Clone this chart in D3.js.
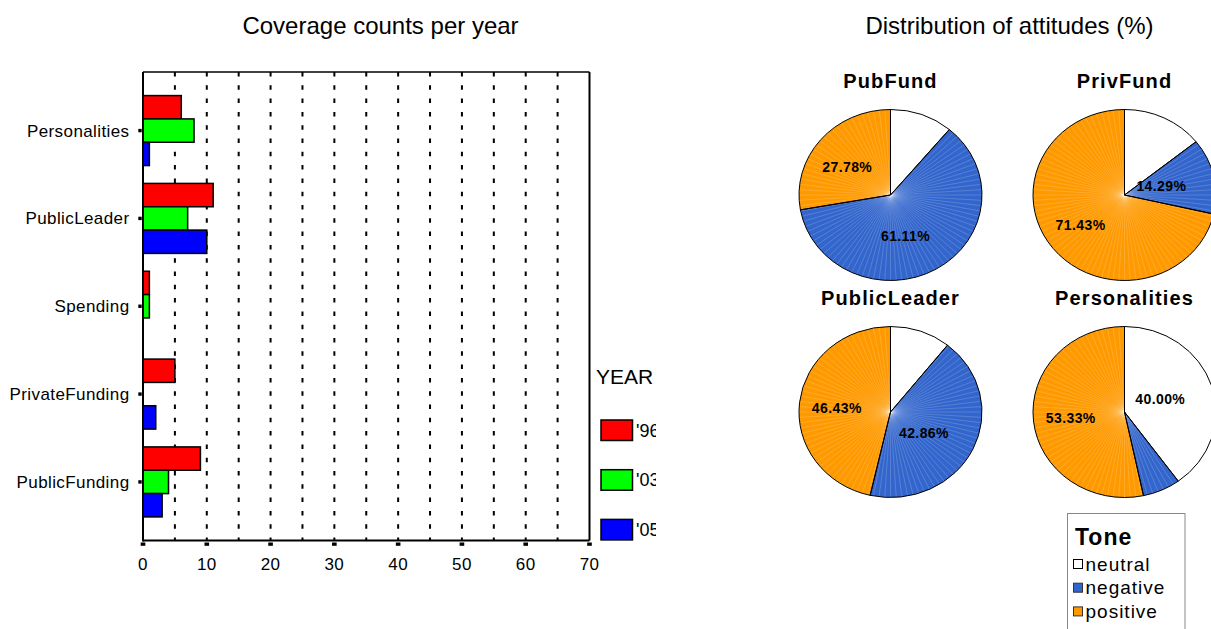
<!DOCTYPE html>
<html>
<head>
<meta charset="utf-8">
<script src="https://cdn.jsdelivr.net/npm/d3@7"></script>
<style>
  html, body { margin: 0; padding: 0; background: #fff; }
  svg { display: block; font-family: "Liberation Sans", Arial, sans-serif; }
</style>
</head>
<body>
<svg id="chart" width="1211" height="629"></svg>
<script>
// ---------- data ----------
const categories = ["Personalities", "PublicLeader", "Spending", "PrivateFunding", "PublicFunding"];
const years = ["'96", "'03", "'05"];
const counts96 = [6, 11, 1, 5, 9];
const counts03 = [8, 7, 1, 0, 4];
const counts05 = [1, 10, 0, 2, 3];
const xTicks = [0, 10, 20, 30, 40, 50, 60, 70];
const xGrid = [5, 10, 15, 20, 25, 30, 35, 40, 45, 50, 55, 60, 65];

const pieNames = ["PubFund", "PrivFund", "PublicLeader", "Personalities"];
const tones = ["neutral", "negative", "positive"];
const neutralPct = [11.11, 14.29, 10.71, 40.00];
const negativePct = [61.11, 14.29, 42.86, 6.67];
const positivePct = [27.78, 71.43, 46.43, 53.33];
const neutralLabelShown = [false, false, false, true];
const negativeLabelShown = [true, true, true, false];
const positiveLabelShown = [true, true, true, true];

// ---------- setup ----------
const svg = d3.select("#chart");
svg.append("rect").attr("width", 1211).attr("height", 629).attr("fill", "#fff");

const yearColors = d3.scaleOrdinal().domain(years).range(["#ff0000", "#00ff00", "#0000ff"]);
const toneColors = d3.scaleOrdinal().domain(tones).range(["#ffffff", "#3366cc", "#ff9900"]);

// ---------- bar chart ----------
const plot = { left: 143, right: 589.5, top: 72, bottom: 540.5 };
const x = d3.scaleLinear().domain([0, 70]).range([plot.left, plot.right]);
const y = d3.scalePoint().domain(categories).range([plot.top, plot.bottom]).padding(0.667);
const yInner = d3.scaleBand().domain(years).range([-35, 35]);

svg.append("text")
  .attr("x", 380.5).attr("y", 34)
  .attr("text-anchor", "middle")
  .attr("font-size", 24)
  .text("Coverage counts per year");

// grid lines
svg.append("g").selectAll("line").data(xGrid).join("line")
  .attr("x1", d => x(d)).attr("x2", d => x(d))
  .attr("y1", plot.top).attr("y2", plot.bottom)
  .attr("stroke", "#000").attr("stroke-width", 2)
  .attr("stroke-dasharray", "4.5,8.8");

// bars
const seriesVals = [counts96, counts03, counts05];
const barData = [];
categories.forEach((c, ci) => {
  years.forEach((yr, yi) => barData.push({ cat: c, year: yr, v: seriesVals[yi][ci] }));
});
svg.append("g").selectAll("rect").data(barData).join("rect")
  .attr("x", x(0))
  .attr("y", d => y(d.cat) + yInner(d.year))
  .attr("width", d => x(d.v) - x(0))
  .attr("height", yInner.bandwidth())
  .attr("fill", d => yearColors(d.year))
  .attr("stroke", d => d.v > 0 ? "#000" : "none")
  .attr("stroke-width", 1.5);

// frame
const frame = svg.append("g").attr("stroke", "#000").attr("fill", "none");
frame.append("line").attr("x1", plot.left).attr("x2", plot.right).attr("y1", plot.top).attr("y2", plot.top).attr("stroke-width", 1.5);
frame.append("line").attr("x1", plot.right).attr("x2", plot.right).attr("y1", plot.top).attr("y2", plot.bottom).attr("stroke-width", 2);
frame.append("line").attr("x1", plot.left).attr("x2", plot.left).attr("y1", plot.top).attr("y2", plot.bottom + 1).attr("stroke-width", 2);
frame.append("line").attr("x1", plot.left).attr("x2", plot.right).attr("y1", plot.bottom).attr("y2", plot.bottom).attr("stroke-width", 2);

// y axis ticks and labels
const yAx = svg.append("g");
yAx.selectAll("rect").data(categories).join("rect")
  .attr("x", 138.3).attr("y", d => y(d) - 1.7).attr("width", 3.4).attr("height", 3.4).attr("fill", "#000");
yAx.selectAll("text").data(categories).join("text")
  .attr("x", 129.5).attr("y", d => y(d) + 6)
  .attr("text-anchor", "end")
  .attr("font-size", 17)
  .attr("letter-spacing", 0.4)
  .text(d => d);

// x axis ticks and labels
const xAx = svg.append("g");
xAx.selectAll("rect").data(xTicks).join("rect")
  .attr("x", d => x(d) - 2.3).attr("y", 542.5).attr("width", 4.6).attr("height", 3.3).attr("fill", "#000");
xAx.selectAll("text").data(xTicks).join("text")
  .attr("x", d => x(d)).attr("y", 569.5)
  .attr("text-anchor", "middle")
  .attr("font-size", 17)
  .attr("letter-spacing", 0.4)
  .text(d => d);

// YEAR legend (clipped at right)
svg.append("clipPath").attr("id", "legclip")
  .append("rect").attr("x", 590).attr("y", 340).attr("width", 66).attr("height", 220);
const leg = svg.append("g").attr("clip-path", "url(#legclip)");
leg.append("text").attr("x", 596).attr("y", 384).attr("font-size", 21).text("YEAR");
const legRows = leg.selectAll("g.row").data(years).join("g").attr("class", "row")
  .attr("transform", (d, i) => `translate(601,${420 + i * 49.7})`);
legRows.append("rect").attr("width", 31.5).attr("height", 20.5)
  .attr("fill", d => yearColors(d)).attr("stroke", "#000").attr("stroke-width", 1.5);
legRows.append("text").attr("x", 35).attr("y", 16.5).attr("font-size", 18).text(d => d);

// ---------- pies ----------
svg.append("text")
  .attr("x", 1009.5).attr("y", 34)
  .attr("text-anchor", "middle")
  .attr("font-size", 24)
  .text("Distribution of attitudes (%)");

const pieCenters = [[890.5, 195], [1124.5, 195], [890.5, 412], [1124.5, 412]];
const ry = 85.5, rx = 91.5;
const pie = d3.pie().sort(null).value(d => d.v);
const arc = d3.arc().innerRadius(0).outerRadius(ry);

pieNames.forEach((name, pi) => {
  const [cx, cy] = pieCenters[pi];
  const vals = [
    { tone: "neutral", v: neutralPct[pi], show: neutralLabelShown[pi] },
    { tone: "negative", v: negativePct[pi], show: negativeLabelShown[pi] },
    { tone: "positive", v: positivePct[pi], show: positiveLabelShown[pi] }
  ];
  const arcs = pie(vals);
  const g = svg.append("g").attr("transform", `translate(${cx},${cy})`);
  g.append("text").attr("x", 0).attr("y", -107)
    .attr("text-anchor", "middle")
    .attr("font-size", 20).attr("font-weight", "bold")
    .attr("letter-spacing", 1.1)
    .text(name);

  const sg = g.append("g").attr("transform", `scale(${rx / ry},1)`);
  sg.selectAll("path.fill").data(arcs).join("path").attr("class", "fill")
    .attr("d", arc).attr("fill", d => toneColors(d.data.tone));
  // subtle radial rendering streaks
  const streaks = d3.range(0, 360, 3.6);
  sg.append("g").selectAll("line").data(streaks).join("line")
    .attr("x1", 0).attr("y1", 0)
    .attr("x2", a => ry * Math.sin(a * Math.PI / 180))
    .attr("y2", a => -ry * Math.cos(a * Math.PI / 180))
    .attr("stroke", "#fff").attr("stroke-opacity", 0.28).attr("stroke-width", 0.6);
  sg.selectAll("path.edge").data(arcs).join("path").attr("class", "edge")
    .attr("d", arc).attr("fill", "none")
    .attr("stroke", "#000").attr("stroke-width", 1)
    .attr("vector-effect", "non-scaling-stroke");

  g.selectAll("text.lab").data(arcs.filter(d => d.data.show)).join("text").attr("class", "lab")
    .attr("x", d => 46 * Math.sin((d.startAngle + d.endAngle) / 2) - 8)
    .attr("y", d => -46 * Math.cos((d.startAngle + d.endAngle) / 2) + 1.5)
    .attr("text-anchor", "middle")
    .attr("dominant-baseline", "central")
    .attr("font-size", 14).attr("font-weight", "bold")
    .attr("letter-spacing", 0.4)
    .text(d => d.data.v.toFixed(2) + "%");
});

// Tone legend
const tl = svg.append("g");
tl.append("rect").attr("x", 1067.5).attr("y", 513.5).attr("width", 117.5).attr("height", 130)
  .attr("fill", "#fff").attr("stroke", "#888").attr("stroke-width", 1);
tl.append("text").attr("x", 1075).attr("y", 545)
  .attr("font-size", 23).attr("font-weight", "bold").attr("letter-spacing", 1)
  .text("Tone");
const tRows = tl.selectAll("g.trow").data(tones).join("g").attr("class", "trow")
  .attr("transform", (d, i) => `translate(1073.5,${559.5 + i * 23.7})`);
tRows.append("rect").attr("width", 9).attr("height", 9)
  .attr("fill", d => toneColors(d)).attr("stroke", d => d === "neutral" ? "#000" : "#333").attr("stroke-width", 1);
tRows.append("text").attr("x", 12).attr("y", 11)
  .attr("font-size", 19).attr("letter-spacing", 1)
  .text(d => d);
</script>
</body>
</html>
